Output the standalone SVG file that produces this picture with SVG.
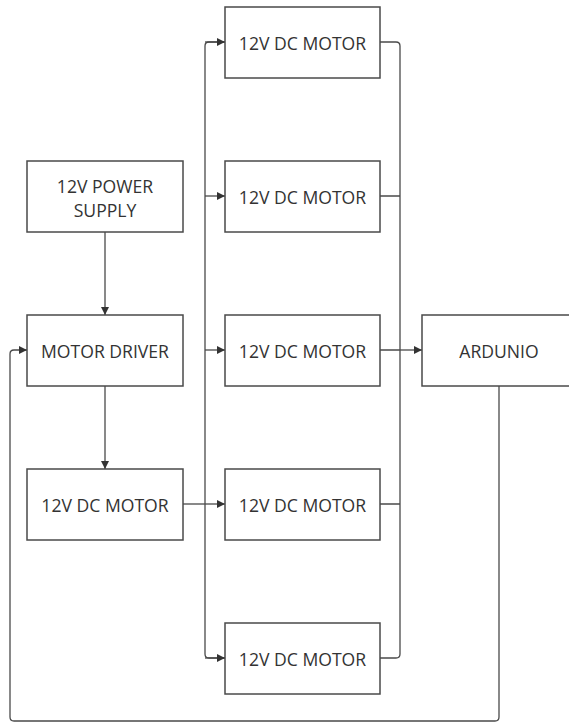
<svg xmlns="http://www.w3.org/2000/svg" width="569" height="723" viewBox="0 0 569 723">
<style>
.box{fill:#fff;stroke:#4a4a4a;stroke-width:1.5}
.t{font-family:"Open Sans",sans-serif;font-size:17.6px;fill:#333;text-anchor:middle;dominant-baseline:central}
.c{fill:none;stroke:#4a4a4a;stroke-width:1.3}
</style>
<defs>
<marker id="a" viewBox="0 0 10 10" refX="10" refY="5" markerWidth="8" markerHeight="8" markerUnits="userSpaceOnUse" orient="auto"><path d="M0,0L10,5L0,10z" fill="#333"/></marker>
</defs>
<rect width="569" height="723" fill="#fff"/>
<g id="connectors">
<path class="c" d="M105,232V315" marker-end="url(#a)"/>
<path class="c" d="M105,386V469" marker-end="url(#a)"/>
<path class="c" d="M183,504H205" />
<path class="c" d="M225,42H209Q205,42 205,46V654Q205,658 209,658H225"/>
<path class="c" d="M205,42H225" marker-end="url(#a)"/>
<path class="c" d="M205,196H225" marker-end="url(#a)"/>
<path class="c" d="M205,350H225" marker-end="url(#a)"/>
<path class="c" d="M205,504H225" marker-end="url(#a)"/>
<path class="c" d="M205,658H225" marker-end="url(#a)"/>
<path class="c" d="M380,42H396Q400,42 400,46V654Q400,658 396,658H380"/>
<path class="c" d="M380,196H400M380,350H400M380,504H400"/>
<path class="c" d="M400,350H422" marker-end="url(#a)"/>
<path class="c" d="M499,386V717Q499,721 495,721H14Q10,721 10,717V354Q10,350 14,350H27" marker-end="url(#a)"/>
</g>
<g id="power"><rect class="box" x="27" y="161" width="156" height="71"/><text class="t" x="105" y="186">12V POWER</text><text class="t" x="105" y="210">SUPPLY</text></g>
<g id="driver"><rect class="box" x="27" y="315" width="156" height="71"/><text class="t" x="105" y="351">MOTOR DRIVER</text></g>
<g id="motor0"><rect class="box" x="27" y="469" width="156" height="71"/><text class="t" x="105" y="505">12V DC MOTOR</text></g>
<g id="motor1"><rect class="box" x="225" y="7" width="155" height="71"/><text class="t" x="302.5" y="43">12V DC MOTOR</text></g>
<g id="motor2"><rect class="box" x="225" y="161" width="155" height="71"/><text class="t" x="302.5" y="197">12V DC MOTOR</text></g>
<g id="motor3"><rect class="box" x="225" y="315" width="155" height="71"/><text class="t" x="302.5" y="351">12V DC MOTOR</text></g>
<g id="motor4"><rect class="box" x="225" y="469" width="155" height="71"/><text class="t" x="302.5" y="505">12V DC MOTOR</text></g>
<g id="motor5"><rect class="box" x="225" y="623" width="155" height="71"/><text class="t" x="302.5" y="659">12V DC MOTOR</text></g>
<g id="ardunio"><rect class="box" x="422" y="315" width="160" height="71"/><text class="t" x="499" y="351">ARDUNIO</text></g>
</svg>
